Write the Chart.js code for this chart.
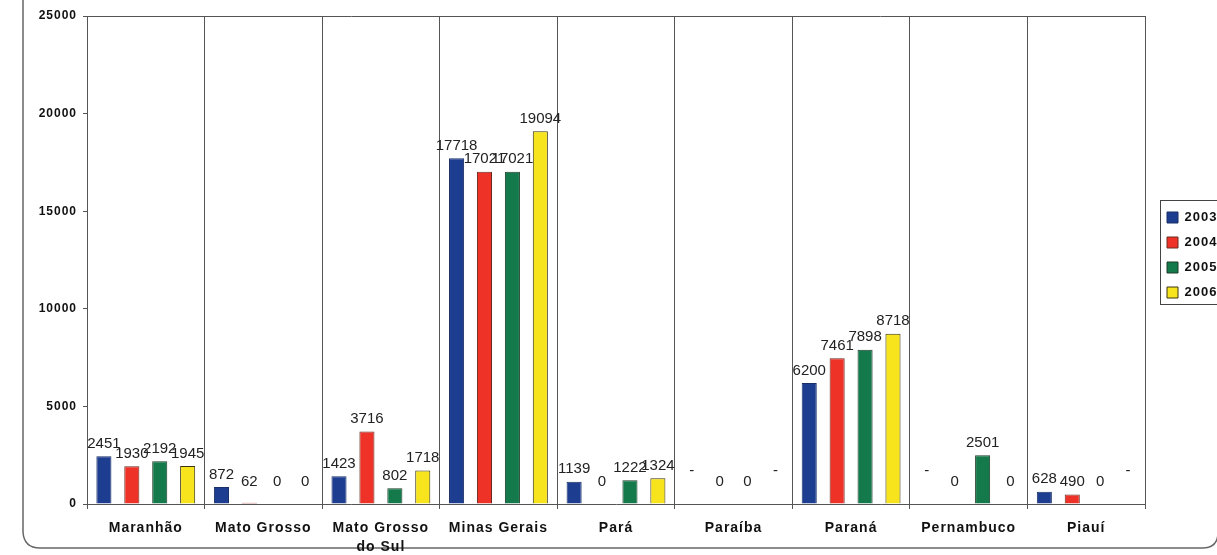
<!DOCTYPE html>
<html>
<head>
<meta charset="utf-8">
<script src="https://cdn.jsdelivr.net/npm/chart.js@4/dist/chart.umd.min.js"></script>
<style>
  html, body { margin: 0; padding: 0; background: #fff; }
  #wrap { width: 1217px; height: 555px; }
</style>
</head>
<body>
<div id="wrap"><canvas id="states-chart"></canvas></div>
<script>
// categories (states) and one array per year
const states = ['Maranhão', 'Mato Grosso', ['Mato Grosso', 'do Sul'], 'Minas Gerais', 'Pará', 'Paraíba', 'Paraná', 'Pernambuco', 'Piauí'];
const years = ['2003', '2004', '2005', '2006'];

// null = shown as "-" in the original
const values2003 = [2451, 872, 1423, 17718, 1139, null, 6200, null, 628];
const values2004 = [1930, 62, 3716, 17021, 0, 0, 7461, 0, 490];
const values2005 = [2192, 0, 802, 17021, 1222, 0, 7898, 2501, 0];
const values2006 = [1945, 0, 1718, 19094, 1324, null, 8718, 0, null];

const yTicks = [0, 5000, 10000, 15000, 20000, 25000];

const lineColor = '#555';
const fontFamily = '"Liberation Sans", Arial, sans-serif';

// the old excel print has wide letter spacing on axis text
const spacing = {
    id: 'spacing',
    beforeUpdate(chart) { chart.ctx.letterSpacing = '1px'; },
    beforeDraw(chart) { chart.ctx.letterSpacing = '1px'; }
};

// outer rounded frame + plot top border
const framePlugin = {
    id: 'frame',
    beforeDraw(chart) {
        const ctx = chart.ctx;
        ctx.save();
        ctx.strokeStyle = '#666';
        ctx.lineWidth = 1.5;
        ctx.beginPath();
        ctx.moveTo(23, -5);
        ctx.lineTo(23, 532);
        ctx.quadraticCurveTo(24, 548, 40, 548);
        ctx.lineTo(1203, 548);
        ctx.quadraticCurveTo(1217, 548, 1218, 534);
        ctx.stroke();
        ctx.restore();
    },
    afterDraw(chart) {
        const ctx = chart.ctx;
        const a = chart.chartArea;
        ctx.save();
        ctx.strokeStyle = lineColor;
        ctx.lineWidth = 1;
        ctx.beginPath();
        ctx.moveTo(a.left, a.top + 0.5);
        ctx.lineTo(a.right, a.top + 0.5);
        ctx.stroke();
        // legend border
        const lg = chart.legend;
        ctx.strokeStyle = '#444';
        ctx.strokeRect(lg.left + 5.5, lg.top + 1.5, 80, 104);
        ctx.restore();
    }
};

// move legend next to plot like the original
const legendPlace = {
    id: 'legendPlace',
    afterLayout(chart) {
        const lg = chart.legend;
        const dx = chart.chartArea.right + 10 - lg.left;
        lg.left += dx;
        lg.right += dx;
        const dy = 199 - lg.top;
        lg.top += dy;
        lg.bottom += dy;
    }
};

// value labels above bars
const valueLabels = {
    id: 'valueLabels',
    afterDatasetsDraw(chart) {
        const ctx = chart.ctx;
        const base = chart.scales.y.getPixelForValue(0);
        ctx.save();
        ctx.letterSpacing = '0px';
        ctx.font = '15px ' + fontFamily;
        ctx.fillStyle = '#222';
        ctx.textAlign = 'center';
        ctx.textBaseline = 'bottom';
        chart.data.datasets.forEach((ds, i) => {
            const meta = chart.getDatasetMeta(i);
            meta.data.forEach((bar, j) => {
                const v = ds.data[j];
                let text, y;
                if (v === null) {
                    text = '-';
                    y = base - 26;
                } else {
                    text = String(v);
                    y = Math.min(bar.y, base - 10) - 5;
                }
                ctx.fillText(text, bar.x, y);
            });
        });
        ctx.restore();
    }
};

const ctx = document.getElementById('states-chart');
new Chart(ctx, {
    type: 'bar',
    data: {
        labels: states,
        datasets: [{
            label: years[0],
            data: values2003,
            backgroundColor: '#1d3d90',
            borderColor: '#1a2f66',
            borderWidth: 1
        }, {
            label: years[1],
            data: values2004,
            backgroundColor: '#ee3228',
            borderColor: '#6a2a20',
            borderWidth: 1
        }, {
            label: years[2],
            data: values2005,
            backgroundColor: '#157a4b',
            borderColor: '#1d3d2a',
            borderWidth: 1
        }, {
            label: years[3],
            data: values2006,
            backgroundColor: '#f8e41c',
            borderColor: '#3a3410',
            borderWidth: 1
        }]
    },
    options: {
        responsive: true,
        maintainAspectRatio: false,
        animation: false,
        layout: {
            padding: { left: 22, top: 16, right: 0, bottom: 3 }
        },
        datasets: {
            bar: {
                barPercentage: 0.54,
                categoryPercentage: 0.95
            }
        },
        plugins: {
            tooltip: { enabled: false },
            legend: {
                position: 'right',
                align: 'start',
                maxWidth: 72,
                labels: {
                    boxWidth: 11,
                    boxHeight: 11,
                    padding: 12,
                    color: '#111',
                    font: { family: fontFamily, size: 13, weight: 'bold' }
                }
            }
        },
        scales: {
            x: {
                afterFit(s) { s.height = 48; },
                grid: {
                    offset: true,
                    color: lineColor,
                    lineWidth: 1,
                    tickLength: 5
                },
                border: { color: lineColor },
                ticks: {
                    color: '#111',
                    padding: 9,
                    maxRotation: 0,
                    autoSkip: false,
                    font: { family: fontFamily, size: 14, weight: 'bold', lineHeight: 1.4 }
                }
            },
            y: {
                min: 0,
                max: 25000,
                afterFit(s) { s.width = 65; },
                afterBuildTicks(s) { s.ticks = yTicks.map(v => ({ value: v })); },
                grid: {
                    drawOnChartArea: false,
                    color: lineColor,
                    tickLength: 4
                },
                border: { color: lineColor },
                ticks: {
                    color: '#111',
                    padding: 6,
                    callback: v => String(v),
                    font: { family: fontFamily, size: 12, weight: 'bold' }
                }
            }
        }
    },
    plugins: [spacing, framePlugin, legendPlace, valueLabels]
});
</script>
</body>
</html>
